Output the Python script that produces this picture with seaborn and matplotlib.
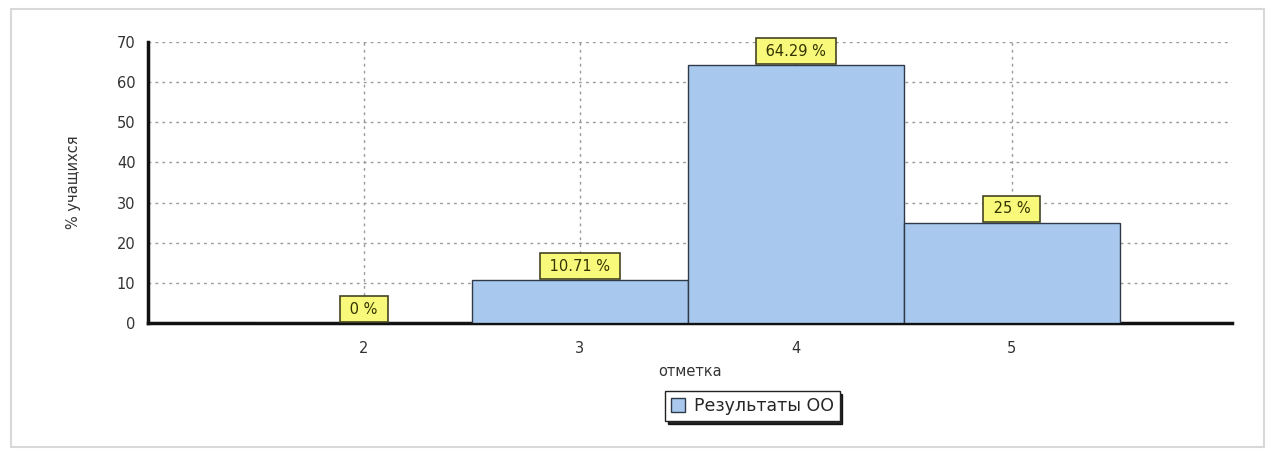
import matplotlib
matplotlib.use("Agg")
import matplotlib.pyplot as plt
import seaborn as sns
import pandas as pd
from matplotlib.patches import Rectangle

grades = [2, 3, 4, 5]
percents = [0, 10.71, 64.29, 25]
labels = ["0 %", "10.71 %", "64.29 %", "25 %"]
series_name = "Результаты ОО"
y_ticks = [0, 10, 20, 30, 40, 50, 60, 70]

sns.set_style("white")
plt.rcParams['font.family'] = ['DejaVu Sans']

df = pd.DataFrame({"grade": grades, "pct": percents, "series": [series_name] * len(grades)})

fig = plt.figure(figsize=(12.73, 4.51), dpi=100)
ax = fig.add_axes([0.1163, 0.2838, 0.8515, 0.6231])

# outer frame
fig.patches.append(Rectangle((0.009, 0.008), 0.984, 0.972, transform=fig.transFigure,
                             fill=False, edgecolor="#d8d8d8", linewidth=1.5, zorder=0))

sns.barplot(data=df, x="grade", y="pct", hue="series", native_scale=True, width=1.0,
            palette=["#a8c8ee"], edgecolor="#2e3a4a", linewidth=1.0, ax=ax, zorder=3,
            saturation=1)

ax.set_xlim(1, 6.02)
ax.set_ylim(0, 70)
ax.set_yticks(y_ticks)
ax.set_xticks(grades)
ax.set_xticklabels([str(g) for g in grades])
ax.grid(True, color="#9a9a9a", linestyle=(0, (2, 3)), linewidth=1.0, zorder=0)
ax.set_axisbelow(True)

for side in ["top", "right"]:
    ax.spines[side].set_visible(False)
for side in ["left", "bottom"]:
    ax.spines[side].set_color("#111111")
    ax.spines[side].set_linewidth(2.5)

ax.tick_params(axis="both", labelsize=10.5, colors="#333333", length=3, width=1)
ax.tick_params(axis="x", pad=10)
ax.tick_params(axis="y", pad=6)
ax.set_ylabel("% учащихся", fontsize=10.5, color="#333333", labelpad=26)
ax.set_xlabel("отметка", fontsize=10.5, color="#333333", labelpad=6)

for g, p, lab in zip(grades, percents, labels):
    ax.annotate(" " + lab + " ", xy=(g, p), xytext=(0, 4.5), textcoords="offset points",
                ha="center", va="bottom", fontsize=10.5, color="#333300", zorder=5,
                bbox=dict(boxstyle="square,pad=0.38", facecolor="#f8f87a",
                          edgecolor="#444422", linewidth=1.2))

ax.legend(loc="center", bbox_to_anchor=(0.591, 0.100), bbox_transform=fig.transFigure,
          fancybox=False, shadow={'color': 'black', 'alpha': 0.85}, edgecolor="#222222",
          fontsize=12.5, handlelength=0.8, handleheight=0.8, handletextpad=0.5,
          borderpad=0.35, borderaxespad=0, framealpha=1)

fig.savefig("out.png", dpi=100)
